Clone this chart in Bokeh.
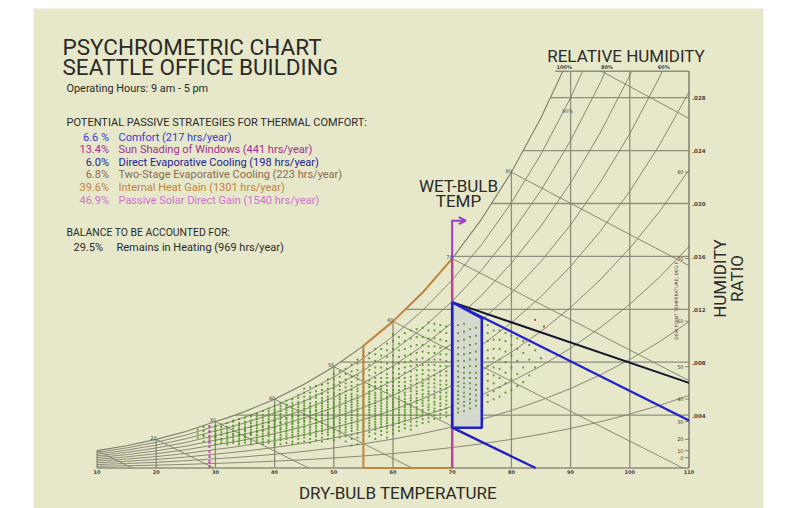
import numpy as np
from bokeh.plotting import figure
from bokeh.models import Range1d, Label, Arrow, OpenHead
from bokeh.embed import file_html
from bokeh.resources import INLINE

# ---------------------------------------------------------------------------
# Psychrometric reference table, sea level (dry-bulb degF -> saturation W)
# ---------------------------------------------------------------------------
SAT_T = [0, 5, 10, 15, 20, 25, 30, 32, 35, 40, 45, 50, 55, 60, 65, 70, 75,
         80, 85, 90, 95, 100, 105, 110]
SAT_W = [0.000787, 0.001015, 0.001312, 0.001688, 0.002163, 0.002762,
         0.003514, 0.003790, 0.004274, 0.005207, 0.006328, 0.007661,
         0.009238, 0.011087, 0.013267, 0.015832, 0.018843, 0.022367,
         0.026478, 0.031264, 0.036832, 0.043302, 0.050821, 0.059573]

RH_LEVELS = [0.1, 0.2, 0.3, 0.4, 0.5, 0.6, 0.7, 0.8, 0.9]
WB_LEVELS = [10, 20, 30, 40, 50, 60, 70, 80, 90]
WB_LABELS = [20, 30, 40, 50, 60, 70, 80]
DB_TICKS = [10, 20, 30, 40, 50, 60, 70, 80, 90, 100, 110]
W_TICKS = [0.004, 0.008, 0.012, 0.016, 0.020, 0.024, 0.028]
W_TICK_LABELS = [".004", ".008", ".012", ".016", ".020", ".024", ".028"]
DEW_TICKS = [0, 10, 20, 30, 40, 50, 60, 70, 80]
RH_TOP_LABELS = ["100%", "80%", "60%"]
RH_TOP_LEVELS = [1.0, 0.8, 0.6]

T_MIN, T_MAX, W_TOP = 10, 110, 0.030

# ---------------------------------------------------------------------------
# Design strategy zones (dry-bulb degF, humidity ratio)
# ---------------------------------------------------------------------------
COMFORT_T = [70, 70, 75, 75, 70]
COMFORT_W = [0.01254, 0.00304, 0.00304, 0.01133, 0.01254]
DIRECT_EVAP_T = [70, 110]
DIRECT_EVAP_W = [0.01254, 0.00359]
DIRECT_EVAP_LOW_T = [70, 84.1]
DIRECT_EVAP_LOW_W = [0.00304, 0.0]
TWO_STAGE_T = [70, 110]
TWO_STAGE_W = [0.01254, 0.00644]
HEAT_GAIN_T = [70, 55, 55, 60, 65, 70]
HEAT_GAIN_W = [0.0, 0.0, 0.009238, 0.011087, 0.013267, 0.015832]
SHADING_T = [70, 70]
SHADING_W = [0.0, 0.015832]
SOLAR_ARROW_T = [70, 70]
SOLAR_ARROW_W = [0.015832, 0.0187]
SOLAR_ARROW_TIP = 72.3
PASSIVE_SOLAR_T = [29, 29]
PASSIVE_SOLAR_W = [0.0, 0.00329]

# Hourly weather (occupied hours), humidity ratio in 1e-4 lb/lb per dry-bulb degF
HOURLY_W_BY_DB = {
    27: "23 26 29",
    28: "20 24 25 28 31",
    29: "19 22 24 27 28 31",
    30: "18 21 23 24 26 28 30 32",
    31: "19 21 22 25 27 29 31 33",
    32: "18 20 22 24 26 27 29 31 34",
    33: "19 21 23 25 26 28 30 32 35 36",
    34: "18 20 22 24 25 27 29 30 32 34 37",
    35: "19 21 23 24 26 28 29 31 33 35 38",
    36: "18 20 22 25 26 27 29 31 32 34 36 39 40",
    37: "19 21 23 25 27 28 30 32 33 35 37 39 41",
    38: "18 20 22 24 26 28 29 31 32 34 36 38 40 43",
    39: "19 21 24 26 27 29 31 32 34 35 37 39 41 43 45",
    40: "17 19 22 24 26 28 30 31 33 35 36 38 40 42 44 47",
    41: "18 21 23 25 27 29 30 32 34 35 37 39 41 43 45 47 49",
    42: "19 22 24 26 28 30 32 33 35 37 38 40 42 44 46 48 51",
    43: "18 20 23 25 27 29 31 33 34 36 38 39 41 43 45 47 49 52",
    44: "19 22 24 26 28 30 32 34 35 37 39 40 42 44 46 48 50 53 55",
    45: "20 23 25 27 29 31 33 35 36 38 40 41 43 45 47 49 51 54 57 60",
    46: "19 22 25 27 29 31 33 35 37 38 40 42 43 45 47 49 52 54 57 61",
    47: "21 24 26 28 30 32 34 36 37 39 41 43 44 46 48 50 53 55 58 62",
    48: "20 23 26 28 30 32 34 36 38 40 41 43 45 47 49 51 53 56 59 63",
    49: "22 25 27 29 31 33 35 37 39 41 42 44 46 48 50 52 54 57 60 64 67",
    50: "21 24 27 29 31 33 35 37 39 41 43 45 46 48 50 52 55 57 60 63 67 71",
    51: "23 26 28 30 32 34 36 38 40 42 44 46 48 50 52 54 56 59 62 65 69 73",
    52: "20 24 27 29 31 33 35 37 39 41 43 45 47 49 51 53 55 58 61 64 67 71 75",
    53: "17 22 25 28 30 32 34 36 38 40 42 44 46 48 50 52 54 56 59 62 65 69 73 78",
    54: "18 23 26 29 31 33 35 37 39 41 43 45 47 49 51 53 55 58 60 63 67 70 74 79 82",
    55: "21 25 28 30 32 34 36 38 40 42 44 46 48 50 52 54 56 58 61 64 67 71 75 80 85 88",
    56: "24 27 30 32 34 36 38 40 42 44 46 48 50 52 54 56 58 61 63 66 70 74 78 83 87",
    57: "22 26 29 31 33 35 37 39 41 43 45 47 49 51 53 55 57 60 62 65 68 72 76 81 86 90",
    58: "25 28 31 33 35 37 39 41 43 45 47 49 51 53 55 57 60 62 65 68 72 76 80 85 90",
    59: "23 27 30 32 34 36 38 40 42 44 46 48 50 52 54 57 59 62 65 68 71 75 79 84 89 94",
    60: "26 29 32 34 36 38 40 42 44 46 48 50 52 55 57 59 62 65 68 72 76 80 85 90 96 101",
    61: "28 31 34 36 38 40 42 44 46 48 50 52 54 57 59 62 65 68 71 75 79 84 89 94 99",
    62: "30 33 36 38 40 42 44 46 48 50 52 55 57 60 62 65 68 72 76 80 85 90 96 102",
    63: "29 32 35 38 40 42 44 46 48 51 53 55 58 60 63 66 69 73 77 81 86 92 98 104",
    64: "32 35 38 40 42 44 46 49 51 53 56 58 61 64 67 70 74 78 82 87 93 99 105",
    65: "34 37 40 42 44 47 49 51 54 56 59 62 64 67 71 74 78 83 88 93 99 106",
    66: "35 38 41 44 46 48 51 53 56 58 61 64 67 70 74 78 82 87 92 98 104 110",
    67: "37 40 43 45 48 50 53 55 58 61 64 67 70 74 78 82 87 92 98 104 109",
    68: "38 41 44 47 49 52 54 57 60 63 66 70 73 77 82 86 91 97 103 108",
    69: "39 42 45 48 51 54 57 60 63 66 70 73 77 81 86 91 96 102 107",
    70: "40 44 47 50 53 56 59 62 66 69 73 77 81 85 90 95 101 107 112",
    71: "42 45 49 52 55 58 62 65 69 73 77 81 86 91 96 102 108",
    72: "43 47 50 54 57 61 64 68 72 76 81 86 91 97 103 109",
    73: "45 49 52 56 60 64 68 72 77 82 87 93 99 105",
    74: "47 51 55 59 63 68 72 77 82 88 94 100 106",
    75: "48 53 57 62 67 72 77 83 89 95 101 107",
    76: "50 55 60 66 71 77 83 89 96 102 108",
    77: "52 58 64 70 76 83 90 97 104",
    78: "54 61 68 75 82 90 97 104",
    79: "57 64 72 80 88 96 102",
    80: "59 67 76 85 93 100",
    81: "62 71 81 90 98",
    82: "65 76 87 96",
    83: "70 82 93",
    84: "76 89",
    85: "83",
}
HOT_HUMID_T = [84, 85.5]
HOT_HUMID_W = [0.0112, 0.0107]

STRATEGY_PCT = ["6.6 %", "13.4%", "6.0%", "6.8%", "39.6%", "46.9%"]
STRATEGY_TXT = ["Comfort (217 hrs/year)",
                "Sun Shading of Windows (441 hrs/year)",
                "Direct Evaporative Cooling (198 hrs/year)",
                "Two-Stage Evaporative Cooling (223 hrs/year)",
                "Internal Heat Gain (1301 hrs/year)",
                "Passive Solar Direct Gain (1540 hrs/year)"]
STRATEGY_COLORS = ["#3b3bd0", "#a0308f", "#23239a", "#8a6a52", "#c0843e", "#d070d2"]

# ---------------------------------------------------------------------------
# Canvas geometry: the frame covers the whole page
# ---------------------------------------------------------------------------
PX_PER_F = 5.92
PX_PER_W = 13225.0
X_AT_10F = 96.5
Y_AT_W0 = 467.5


def fx(px):
    return T_MIN + (px - X_AT_10F) / PX_PER_F


def fy(py):
    return (Y_AT_W0 - py) / PX_PER_W


def dx(px):
    return px / PX_PER_F


def dy(py):
    return py / PX_PER_W


p = figure(width=791, height=508, output_backend="svg", toolbar_location=None,
           x_range=Range1d(fx(0), fx(791)), y_range=Range1d(fy(508), fy(0)),
           x_axis_location=None, y_axis_location=None, min_border=0)
p.grid.visible = False
p.outline_line_color = None
p.background_fill_color = "white"
p.border_fill_color = "white"

p.quad(left=[fx(33)], right=[fx(763)], bottom=[fy(508)], top=[fy(8)],
       fill_color="#e7e8c9", line_color=None)


# ---------------------------------------------------------------------------
# Psychrometric relations
# ---------------------------------------------------------------------------
def w_sat(t):
    return float(np.interp(t, SAT_T, SAT_W))


def t_sat(w):
    return float(np.interp(w, SAT_W, SAT_T))


def rh_w(t, phi):
    ws = w_sat(t)
    r = ws / (0.621945 + ws)
    return 0.621945 * phi * r / (1 - phi * r)


def wb_w(t, twb):
    ws = w_sat(twb)
    return ((1093 - 0.556 * twb) * ws - 0.240 * (t - twb)) / (1093 + 0.444 * t - twb)


def clip_top(ts, ws):
    out_t, out_w = [ts[0]], [ws[0]]
    for i in range(1, len(ts)):
        if ws[i] > W_TOP:
            f = (W_TOP - ws[i - 1]) / (ws[i] - ws[i - 1])
            out_t.append(ts[i - 1] + f * (ts[i] - ts[i - 1]))
            out_w.append(W_TOP)
            break
        out_t.append(ts[i])
        out_w.append(ws[i])
    return out_t, out_w


GRID = "#8e8e7c"
CURVE = "#7d7d6c"

# dry-bulb verticals
for t in DB_TICKS:
    p.line([t, t], [0, min(w_sat(t), W_TOP)], line_color=GRID, line_width=1.3)

# humidity ratio horizontals
for w in W_TICKS + [W_TOP]:
    p.line([t_sat(w), T_MAX], [w, w], line_color=GRID, line_width=1.3)
p.line([T_MIN, T_MAX], [0, 0], line_color=GRID, line_width=1.3)
p.line([T_MAX, T_MAX], [0, W_TOP], line_color=GRID, line_width=1.3)
p.line([t_sat(W_TOP) - 1.3, t_sat(W_TOP)], [W_TOP, W_TOP], line_color=GRID, line_width=1.3)

# relative humidity curves and saturation curve
curve_t = [t for t in SAT_T if T_MIN <= t <= T_MAX]
for phi in RH_LEVELS + [1.0]:
    cw = [rh_w(t, phi) for t in curve_t]
    ct, cw = clip_top(curve_t, cw)
    p.line(ct, cw, line_color=CURVE, line_width=0.9 if phi < 1 else 1.1)

# wet-bulb lines
for twb in WB_LEVELS:
    ws = w_sat(twb)
    a = (1093 - 0.556 * twb) * ws
    if ws > W_TOP:
        t0 = (a + 0.24 * twb - W_TOP * (1093 - twb)) / (0.24 + 0.444 * W_TOP)
        w0 = W_TOP
    else:
        t0, w0 = twb, ws
    t1 = twb + a / 0.24
    if t1 > T_MAX:
        t1 = T_MAX
    w1 = max(wb_w(t1, twb), 0.0)
    p.line([t0, t1], [w0, w1], line_color=CURVE, line_width=0.9)

# dew point scale on the right edge
for td in DEW_TICKS:
    w = w_sat(td)
    p.line([fx(684.5), T_MAX], [w, w], line_color="#6e6e60", line_width=0.8)
    p.add_layout(Label(x=fx(683), y=w, text=str(td), text_font_size="5px",
                       text_color="#444444", text_align="right", text_baseline="middle",
                       text_font="DejaVu Sans"))
p.add_layout(Label(x=fx(675.5), y=fy(300), text="DEW POINT TEMPERATURE, DEG F",
                   text_font_size="4.6px", text_color="#444444", text_align="center",
                   text_baseline="middle", angle=np.pi / 2, text_font="DejaVu Sans"))

# axis numbers
for t in DB_TICKS:
    p.add_layout(Label(x=t, y=fy(471.5), text=str(t), text_font_size="5px",
                       text_color="#444444", text_align="center", text_baseline="middle",
                       text_font="DejaVu Sans", text_font_style="bold"))
for w, s in zip(W_TICKS, W_TICK_LABELS):
    p.add_layout(Label(x=fx(691.5), y=w, text=s, text_font_size="5.5px",
                       text_color="#444444", text_align="left", text_baseline="middle",
                       text_font="DejaVu Sans", text_font_style="bold"))
for twb in WB_LABELS:
    p.add_layout(Label(x=twb + dx(0.5), y=w_sat(twb) + dy(1.5), text=str(twb),
                       text_font_size="5px", text_color="#444444", text_align="right",
                       text_baseline="middle", text_font="DejaVu Sans"))
for s, phi in zip(RH_TOP_LABELS, RH_TOP_LEVELS):
    r = W_TOP / (0.621945 + W_TOP)
    ws_need = r / phi
    t_top = float(np.interp(ws_need, [w / (0.621945 + w) for w in SAT_W], SAT_T))
    p.add_layout(Label(x=t_top + dx(1.5), y=fy(66), text=s, text_font_size="5px",
                       text_color="#444444", text_align="center", text_baseline="middle",
                       text_font="DejaVu Sans", text_font_style="bold"))
p.add_layout(Label(x=fx(567), y=fy(110), text="90%", text_font_size="5px",
                   text_color="#555555", text_align="center", text_baseline="middle",
                   text_font="DejaVu Sans"))

# ---------------------------------------------------------------------------
# Comfort zone fill sits under the weather points
# ---------------------------------------------------------------------------
p.patch(COMFORT_T, COMFORT_W, fill_color="#d5d8cf", fill_alpha=0.95, line_color=None)

# Hourly weather points
pts_t, pts_w = [], []
for t, col in HOURLY_W_BY_DB.items():
    for v in col.split():
        pts_t.append(t)
        pts_w.append(int(v) * 1e-4)
p.scatter(pts_t, pts_w, marker="square", size=1.9, fill_color="#4e9226",
          line_color=None, alpha=0.9)
p.scatter(HOT_HUMID_T, HOT_HUMID_W, marker="square", size=1.9, fill_color="#c0502a",
          line_color=None)

# ---------------------------------------------------------------------------
# Strategy boundaries
# ---------------------------------------------------------------------------
p.line(HEAT_GAIN_T, HEAT_GAIN_W, line_color="#c3843c", line_width=2)
p.line(PASSIVE_SOLAR_T, PASSIVE_SOLAR_W, line_color="#d544d2", line_width=2,
       line_dash="3 2")
p.line(SHADING_T, SHADING_W, line_color="#b8449c", line_width=2.5)
p.line(SOLAR_ARROW_T, SOLAR_ARROW_W, line_color="#9a3cc6", line_width=2)
p.add_layout(Arrow(end=OpenHead(size=7, line_color="#9a3cc6", line_width=2),
                   x_start=SOLAR_ARROW_T[1] - dx(1), y_start=SOLAR_ARROW_W[1],
                   x_end=SOLAR_ARROW_TIP, y_end=SOLAR_ARROW_W[1],
                   line_color="#9a3cc6", line_width=2))
p.line(TWO_STAGE_T, TWO_STAGE_W, line_color="#15152e", line_width=2)
p.line(DIRECT_EVAP_T, DIRECT_EVAP_W, line_color="#2222c4", line_width=2.3)
p.line(DIRECT_EVAP_LOW_T, DIRECT_EVAP_LOW_W, line_color="#2222c4", line_width=2.3)
p.line(COMFORT_T, COMFORT_W, line_color="#2020cc", line_width=2.6)

# ---------------------------------------------------------------------------
# Titles and strategy summary
# ---------------------------------------------------------------------------
DARK = "#2a2a2a"
HEAD_FONT = "Roboto"


def txt(px, py, s, size, color=DARK, align="left", baseline="alphabetic", angle=0.0,
        font=HEAD_FONT):
    p.add_layout(Label(x=fx(px), y=fy(py), text=s, text_font_size=f"{size}px",
                       text_color=color, text_align=align, text_baseline=baseline,
                       angle=angle, text_font=font))


txt(62, 46.7, "PSYCHROMETRIC CHART", 22.5)
txt(62, 66.7, "SEATTLE OFFICE BUILDING", 22.5)
txt(66, 88, "Operating Hours: 9 am - 5 pm", 10.9)
txt(66, 121.5, "POTENTIAL PASSIVE STRATEGIES FOR THERMAL COMFORT:", 11)
row_y = [136.5, 149.3, 161.6, 174.1, 187.0, 199.5]
for yy, pct, s, c in zip(row_y, STRATEGY_PCT, STRATEGY_TXT, STRATEGY_COLORS):
    txt(108.5, yy, pct, 11, color=c, align="right")
    txt(118, yy, s, 11, color=c)
txt(66, 231.5, "BALANCE TO BE ACCOUNTED FOR:", 10.4)
txt(73, 246.5, "29.5%", 11)
txt(116, 246.5, "Remains in Heating (969 hrs/year)", 11)

txt(625.5, 55.3, "RELATIVE HUMIDITY", 17, align="center")
txt(458, 185.7, "WET-BULB", 17, align="center")
txt(458, 200.7, "TEMP", 17, align="center")
txt(397.5, 492.7, "DRY-BULB TEMPERATURE", 17, align="center")
txt(719, 278, "HUMIDITY", 17, align="center", baseline="middle", angle=np.pi / 2)
txt(736, 278, "RATIO", 17, align="center", baseline="middle", angle=np.pi / 2)

open("out.html", "w").write(file_html(p, INLINE))
